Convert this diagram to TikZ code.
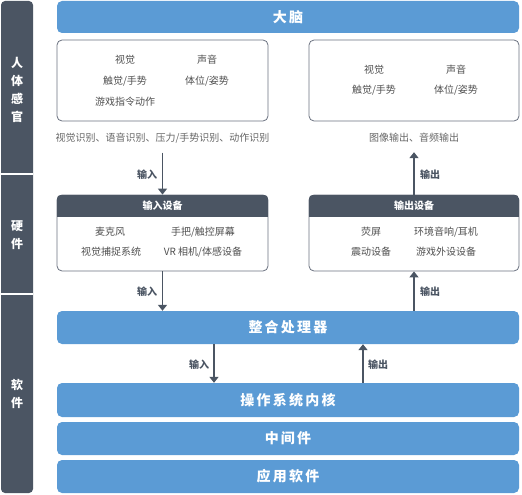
\documentclass[tikz,border=0pt]{standalone}
\usepackage{fontspec}
\setmainfont{Noto Sans CJK SC}
\newfontfamily\barfont{Noto Sans CJK SC}[LetterSpace=16]
\usepackage{tikz}
\usetikzlibrary{arrows.meta, positioning, calc}
\definecolor{barblue}{HTML}{5B9BD5}
\definecolor{sidegray}{HTML}{4B5563}
\definecolor{txtgray}{HTML}{505050}
\definecolor{capgray}{HTML}{666666}
\definecolor{linegray}{HTML}{6B7280}

\begin{document}
\begin{tikzpicture}[x=1pt,y=-1pt,
  bar/.style={fill=barblue, rounded corners=5pt, minimum width=462pt, inner sep=0pt,
    text=white, font=\barfont\fontsize{14}{14}\selectfont\bfseries},
  box/.style={draw=linegray, line width=0.8pt, rounded corners=5pt, fill=white, inner sep=0pt},
  item/.style={text=txtgray, font=\fontsize{10}{12}\selectfont},
  captext/.style={text=capgray, font=\fontsize{10}{12}\selectfont},
  hdr/.style={text=white, font=\fontsize{10}{12}\selectfont\bfseries},
  lbl/.style={text=sidegray, font=\fontsize{10}{12}\selectfont\bfseries},
  side/.style={text=white, align=center, font=\fontsize{12}{18}\selectfont\bfseries},
  arr/.style={draw=sidegray, line width=1.8pt, -{Triangle[width=9pt,length=6pt]}}]
\useasboundingbox (0,0) rectangle (522,495);

% left side bar
\fill[sidegray, rounded corners=4pt] (1,1) rectangle (33,493);
\draw[white, line width=2pt] (1,174) -- (33,174);
\draw[white, line width=2pt] (1,294) -- (33,294);
\node[side] (sense) at (17,90) {人\\体\\感\\官};
\node[side] (hard) at (17,235) {硬\\件};
\node[side] (soft) at (17,394) {软\\件};

% blue layers
\node[bar, minimum height=32pt] (brain) at (288,17) {大脑};
\node[bar, minimum height=33pt] (proc) at (288,327.5) {整合处理器};
\node[bar, minimum height=34pt] (kernel) at (288,400) {操作系统内核};
\node[bar, minimum height=33pt] (mid) at (288,438.5) {中间件};
\node[bar, minimum height=33pt] (app) at (288,476.5) {应用软件};

% senses
\node[box, minimum width=211pt, minimum height=81pt] (senseL) at (162.5,80.5) {};
\node[item] (sl1) at (125,60) {视觉};
\node[item] (sl2) at (207,60) {声音};
\node[item] (sl3) at (125,81) {触觉/手势};
\node[item] (sl4) at (207,81) {体位/姿势};
\node[item] (sl5) at (125,102) {游戏指令动作};
\node[captext] (capL) at (162.5,138) {视觉识别、语音识别、压力/手势识别、动作识别};

\node[box, minimum width=210pt, minimum height=81pt] (senseR) at (414,80.5) {};
\node[item] (sr1) at (374,70) {视觉};
\node[item] (sr2) at (456,70) {声音};
\node[item] (sr3) at (374,90) {触觉/手势};
\node[item] (sr4) at (456,90) {体位/姿势};
\node[captext] (capR) at (414,138) {图像输出、音频输出};

% devices
\node[box, minimum width=211pt, minimum height=76pt] (inbox) at (162.5,233) {};
\begin{scope}
\clip[rounded corners=5pt] (inbox.north west) rectangle (inbox.south east);
\fill[sidegray] (inbox.north west) rectangle ([yshift=-22pt]inbox.north east);
\end{scope}
\node[hdr] (inhd) at ([yshift=-11pt]inbox.north) {输入设备};
\node[item] (in1) at (110,232) {麦克风};
\node[item] (in2) at (203,232) {手把/触控屏幕};
\node[item] (in3) at (111,252) {视觉捕捉系统};
\node[item] (in4) at (203,252) {VR 相机/体感设备};

\node[box, minimum width=210pt, minimum height=76pt] (outbox) at (414,233) {};
\begin{scope}
\clip[rounded corners=5pt] (outbox.north west) rectangle (outbox.south east);
\fill[sidegray] (outbox.north west) rectangle ([yshift=-22pt]outbox.north east);
\end{scope}
\node[hdr] (outhd) at ([yshift=-11pt]outbox.north) {输出设备};
\node[item] (out1) at (371,232) {荧屏};
\node[item] (out2) at (446,232) {环境音响/耳机};
\node[item] (out3) at (371,252) {震动设备};
\node[item] (out4) at (446,252) {游戏外设设备};

% arrows
\draw[arr, shorten <=6pt] (capL.south) -- (inbox.north);
\draw[arr, shorten >=6pt] (outbox.north) -- (capR.south);
\draw[arr] (inbox.south) -- (inbox.south |- proc.north);
\draw[arr] (proc.north -| outbox.south) -- (outbox.south);
\draw[arr] (proc.south -| 214,0) -- (kernel.north -| 214,0);
\draw[arr] (kernel.north -| 363,0) -- (proc.south -| 363,0);
\node[lbl] (a1) at (147,175) {输入};
\node[lbl] (a2) at (430,175) {输出};
\node[lbl] (a3) at (147,292) {输入};
\node[lbl] (a4) at (430,292) {输出};
\node[lbl] (a5) at (199,365) {输入};
\node[lbl] (a6) at (378,365) {输出};
\end{tikzpicture}
\end{document}
